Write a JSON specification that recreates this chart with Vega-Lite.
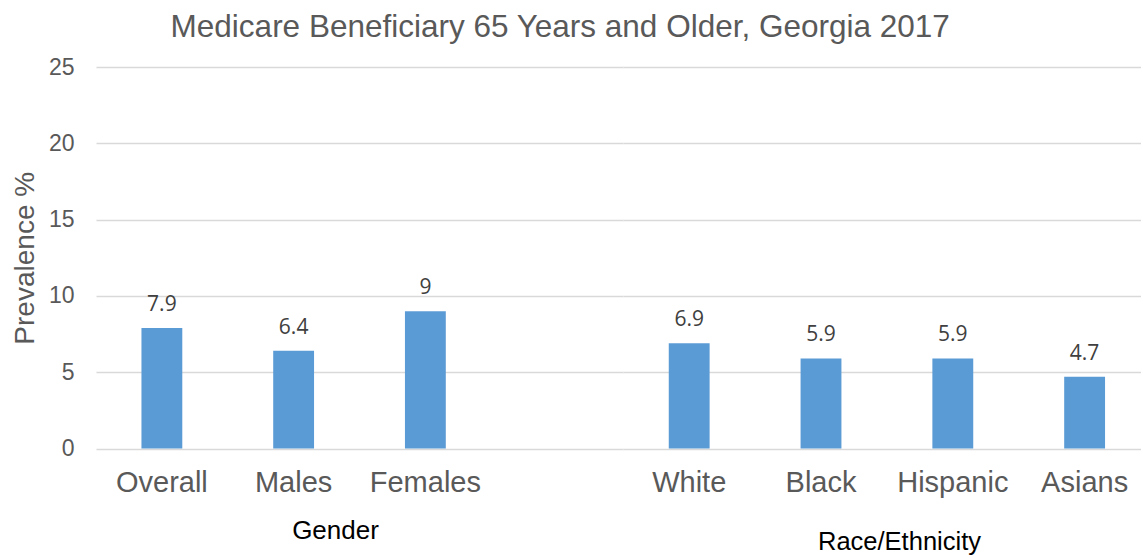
{
  "$schema": "https://vega.github.io/schema/vega-lite/v6.json",
  "background": "white",
  "autosize": {"type": "pad"},
  "padding": {"left": 11, "right": 0, "top": 11, "bottom": 0},
  "spacing": 0,
  "title": {
    "text": "Medicare Beneficiary 65 Years and Older, Georgia 2017",
    "font": "Liberation Sans",
    "fontSize": 31.5,
    "fontWeight": "normal",
    "color": "#595959",
    "anchor": "middle",
    "dx": -16,
    "offset": 13
  },
  "config": {
    "view": {"stroke": null},
    "axis": {"labelFont": "Liberation Sans", "titleFont": "Liberation Sans", "titleFontWeight": "normal"}
  },
  "data": {
    "values": [
      {"group": "Gender", "category": "Overall", "value": 7.9},
      {"group": "Gender", "category": "Males", "value": 6.4},
      {"group": "Gender", "category": "Females", "value": 9},
      {"group": "Race", "category": "White", "value": 6.9},
      {"group": "Race", "category": "Black", "value": 5.9},
      {"group": "Race", "category": "Hispanic", "value": 5.9},
      {"group": "Race", "category": "Asians", "value": 4.7}
    ]
  },
  "hconcat": [
    {
      "width": 527,
      "height": 381.5,
      "transform": [{"filter": "datum.group === 'Gender'"}],
      "encoding": {
        "x": {
          "field": "category", "type": "nominal", "sort": null,
          "scale": {"domain": ["Overall", "Males", "Females", " "], "paddingInner": 0.69, "paddingOuter": 0.345},
          "axis": {
            "title": "Gender", "titleFontSize": 26, "titleColor": "#000000",
            "titleX": 239, "titleY": 82, "titleAlign": "center", "titleBaseline": "middle",
            "labelFontSize": 29, "labelColor": "#595959", "labelAngle": 0, "labelPadding": 20,
            "domain": false, "ticks": false
          }
        },
        "y": {
          "field": "value", "type": "quantitative",
          "scale": {"domain": [0, 25], "nice": false},
          "axis": {
            "values": [0, 5, 10, 15, 20, 25],
            "title": "Prevalence %", "titleFontSize": 28, "titleColor": "#595959", "titlePadding": 9,
            "labelFontSize": 23, "labelColor": "#595959", "labelPadding": 22,
            "domain": false, "ticks": false, "grid": true, "gridColor": "#D9D9D9", "gridWidth": 1.5
          }
        }
      },
      "layer": [
        {"mark": {"type": "bar", "color": "#5B9BD5"}},
        {
          "mark": {"type": "text", "font": "Open Sans", "fontSize": 21, "color": "#404040", "baseline": "alphabetic", "dy": -17},
          "encoding": {"text": {"field": "value", "type": "quantitative"}}
        }
      ]
    },
    {
      "width": 518,
      "height": 381.5,
      "transform": [{"filter": "datum.group === 'Race'"}],
      "encoding": {
        "x": {
          "field": "category", "type": "nominal", "sort": null,
          "scale": {"domain": ["White", "Black", "Hispanic", "Asians"], "paddingInner": 0.69, "paddingOuter": 0.31, "align": 0.56},
          "axis": {
            "title": "Race/Ethnicity", "titleFontSize": 25.5, "titleColor": "#000000",
            "titleX": 276, "titleY": 93, "titleAlign": "center", "titleBaseline": "middle",
            "labelFontSize": 29, "labelColor": "#595959", "labelAngle": 0, "labelPadding": 20,
            "domain": false, "ticks": false
          }
        },
        "y": {
          "field": "value", "type": "quantitative",
          "scale": {"domain": [0, 25], "nice": false},
          "axis": {
            "values": [0, 5, 10, 15, 20, 25],
            "title": null, "labels": false,
            "domain": false, "ticks": false, "grid": true, "gridColor": "#D9D9D9", "gridWidth": 1.5
          }
        }
      },
      "layer": [
        {"mark": {"type": "bar", "color": "#5B9BD5"}},
        {
          "mark": {"type": "text", "font": "Open Sans", "fontSize": 21, "color": "#404040", "baseline": "alphabetic", "dy": -17},
          "encoding": {"text": {"field": "value", "type": "quantitative"}}
        }
      ]
    }
  ]
}
